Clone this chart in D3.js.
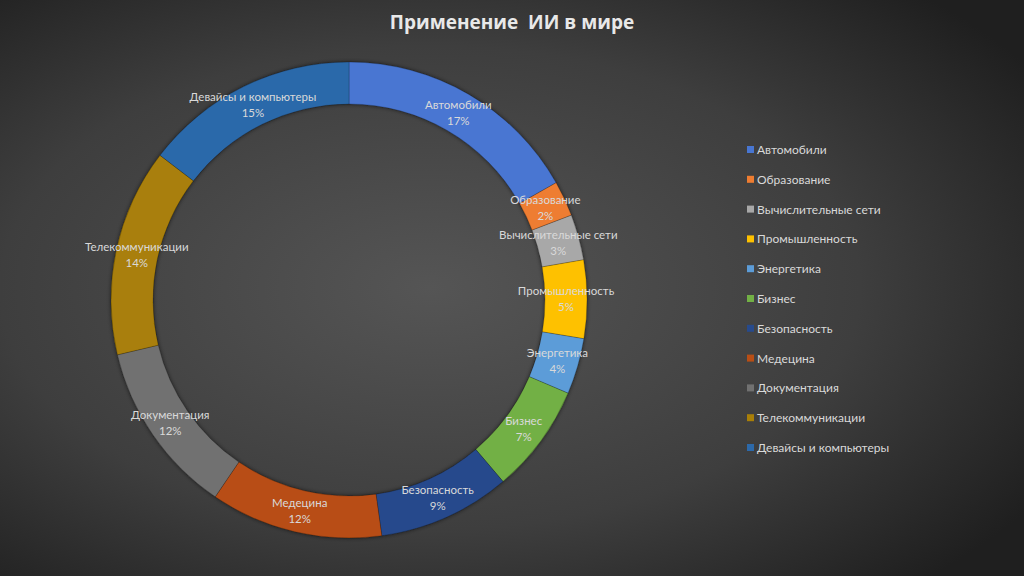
<!DOCTYPE html>
<html>
<head>
<meta charset="utf-8">
<script src="https://cdn.jsdelivr.net/npm/d3@7"></script>
<style>
  html, body { margin: 0; padding: 0; background: #2a2a2a; }
  svg { display: block; }
</style>
</head>
<body>
<script>
const categories = ['Автомобили', 'Образование', 'Вычислительные сети', 'Промышленность',
    'Энергетика', 'Бизнес', 'Безопасность', 'Медецина', 'Документация',
    'Телекоммуникации', 'Девайсы и компьютеры']
const values = [16.8, 2.4, 3.1, 5.3, 3.8, 7.4, 9.0, 11.7, 11.8, 14.1, 14.6]
const colors = ['#4876d2', '#ee7d31', '#a8a8a8', '#fec100', '#5c9cd8', '#72b045',
    '#274a8c', '#b84e15', '#717171', '#a97f08', '#2c69aa']

const W = 1024, H = 576
const cx = 349, cy = 300, outer = 238, inner = 196

const svg = d3.select('body').append('svg')
    .attr('width', W)
    .attr('height', H)

const defs = svg.append('defs')
const bg = defs.append('radialGradient')
    .attr('id', 'bg')
    .attr('cx', '42%').attr('cy', '50%').attr('r', '70%')
bg.append('stop').attr('offset', '0%').attr('stop-color', '#555555')
bg.append('stop').attr('offset', '60%').attr('stop-color', '#3e3e3e')
bg.append('stop').attr('offset', '100%').attr('stop-color', '#1f1f1f')

const shadow = defs.append('filter').attr('id', 'shadow')
    .attr('x', '-10%').attr('y', '-10%').attr('width', '120%').attr('height', '120%')
shadow.append('feDropShadow')
    .attr('dx', 0).attr('dy', 0).attr('stdDeviation', 2)
    .attr('flood-color', '#000').attr('flood-opacity', 0.6)

svg.append('rect')
    .attr('width', W).attr('height', H)
    .attr('fill', 'url(#bg)')

svg.append('text')
    .attr('x', 512).attr('y', 29)
    .attr('text-anchor', 'middle')
    .attr('font-family', 'Open Sans, sans-serif')
    .attr('font-weight', 'bold')
    .attr('font-size', 19)
    .attr('fill', '#e8e8e8')
    .style('white-space', 'pre')
    .text('Применение  ИИ в мире')

const data = categories.map((c, i) => ({ name: c, value: values[i], color: colors[i] }))
const total = d3.sum(values)

const pie = d3.pie().value(d => d.value).sort(null)
const arc = d3.arc().innerRadius(inner).outerRadius(outer)
const labelArc = d3.arc().innerRadius(217).outerRadius(217)

const g = svg.append('g').attr('transform', `translate(${cx},${cy})`)

g.append('g')
    .attr('filter', 'url(#shadow)')
    .selectAll('path')
    .data(pie(data))
    .enter().append('path')
    .attr('d', arc)
    .attr('fill', d => d.data.color)
    .attr('stroke', 'rgba(0,0,0,0.25)')
    .attr('stroke-width', 0.8)

const labels = g.selectAll('.lbl')
    .data(pie(data))
    .enter().append('text')
    .attr('class', 'lbl')
    .attr('transform', d => `translate(${labelArc.centroid(d)})`)
    .attr('text-anchor', 'middle')
    .attr('font-family', 'Lato, sans-serif')
    .attr('font-size', 11.5)
    .attr('fill', '#d9d9d9')

labels.append('tspan')
    .attr('x', 0).attr('dy', -4)
    .text(d => d.data.name)
labels.append('tspan')
    .attr('x', 0).attr('dy', 16)
    .text(d => Math.round(d.data.value / total * 100) + '%')

const legend = svg.append('g')
    .selectAll('g')
    .data(data)
    .enter().append('g')
    .attr('transform', (d, i) => `translate(747,${150 + i * 29.8})`)

legend.append('rect')
    .attr('x', 0).attr('y', -4)
    .attr('width', 7).attr('height', 7)
    .attr('fill', d => d.color)

legend.append('text')
    .attr('x', 10).attr('y', 4)
    .attr('font-family', 'Lato, sans-serif')
    .attr('font-size', 12)
    .attr('fill', '#d9d9d9')
    .text(d => d.name)
</script>
</body>
</html>
